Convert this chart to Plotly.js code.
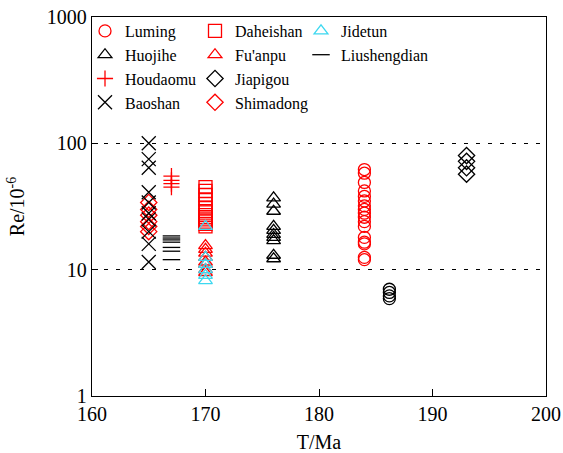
<!DOCTYPE html>
<html>
<head>
<meta charset="utf-8">
<script src="https://cdn.plot.ly/plotly-3.0.1.min.js"></script>
<style>html,body{margin:0;padding:0;background:#fff;}#chart{width:563px;height:453px;}</style>
</head>
<body>
<div id="chart"></div>
<script>
// Ages (Ma)
const ageBaoshan = 165;
const ageHoudaomu = 167;
const ageLiushengdian = 167;
const ageDaheishan = 170;
const ageFuanpu = 170;
const ageJidetun = 170;
const ageHuojihe = 176;
const ageLuming = 184;
const ageUnlabeled = 186.2;
const ageJiapigou = 193;

// Re (10^-6) values
const reLuming = [62, 58, 49, 42, 38, 35, 32, 30, 28, 26, 24, 22, 18, 16.5, 16, 12.5, 12];
const reHuojihe = [37, 33, 29, 22, 20.5, 19, 18, 17, 13, 12.2];
const reHoudaomu = [55, 51, 48, 45];
const reBaoshan = [100, 75, 64, 41, 34, 28, 25, 20, 16, 11.5];
const reDaheishan = [45, 42, 39, 36, 33, 31, 29, 27, 26, 25, 24, 23, 22];
const reFuanpu = [15.5, 14.5, 13.5, 12.5, 11.5, 11, 10, 9.5];
const reJiapigou = [80, 72, 64, 57];
const reShimadong = [34, 30, 27, 24, 22, 20];
const reJidetun = [22, 12.5, 11, 10, 9, 8.2];
const reLiushengdian = [18.5, 17.8, 17.2, 16.5, 15, 14, 12];
const reUnlabeled = [7, 6.6, 6.2, 5.9];

const yTickVals = [1, 10, 100, 1000];
const yTickText = ['1', '10', '100', '1000'];
const xTickVals = [160, 170, 180, 190, 200];

const RED = '#ff0000', BLACK = '#000000', CYAN = '#3cd8f0';
const SERIF = '"Liberation Serif", "Times New Roman", "DejaVu Serif", serif';

function tr(name, age, vals, symbol, color, size, legend, rank) {
  return {
    type: 'scatter', mode: 'markers', name: name,
    x: vals.map(() => age), y: vals,
    marker: {symbol: symbol, size: size, color: color,
             line: {color: color, width: 1.3}},
    legend: legend, legendrank: rank, legendgroup: name
  };
}

const data = [
  tr('Luming', ageLuming, reLuming, 'circle-open', RED, 12, 'legend', 1),
  tr('Huojihe', ageHuojihe, reHuojihe, 'triangle-up-open', BLACK, 12, 'legend', 2),
  tr('Houdaomu', ageHoudaomu, reHoudaomu, 'cross-thin-open', RED, 11.5, 'legend', 3),
  tr('Shimadong', ageBaoshan, reShimadong, 'diamond-open', RED, 12.5, 'legend2', 4),
  tr('Baoshan', ageBaoshan, reBaoshan, 'x-thin-open', BLACK, 14, 'legend', 4),
  tr('Daheishan', ageDaheishan, reDaheishan, 'square-open', RED, 13, 'legend2', 1),
  tr("Fu'anpu", ageFuanpu, reFuanpu, 'triangle-up-open', RED, 12, 'legend2', 2),
  tr('Jiapigou', ageJiapigou, reJiapigou, 'diamond-open', BLACK, 12.5, 'legend2', 3),
  tr('Jidetun', ageJidetun, reJidetun, 'triangle-up-open', CYAN, 12, 'legend3', 1),
  tr('Liushengdian', ageLiushengdian, reLiushengdian, 'line-ew-open', BLACK, 12.5, 'legend3', 2),
];
const unl = tr('unlabeled', ageUnlabeled, reUnlabeled, 'circle-open', BLACK, 12, 'legend', 9);
unl.showlegend = false;
data.push(unl);

const legFont = {family: SERIF, size: 16, color: '#000'};
// plot area: x 92..546 px, y 17..396 px
function leg(xpx) {
  return {x: (xpx - 92) / 454, xref: 'paper', y: (396 - 14) / 379, yref: 'paper',
          xanchor: 'left', yanchor: 'top', bgcolor: 'rgba(0,0,0,0)', borderwidth: 0,
          font: legFont, tracegroupgap: 4, traceorder: 'normal'};
}

const layout = {
  width: 563, height: 453,
  margin: {l: 92, r: 17, t: 17, b: 57, autoexpand: false},
  paper_bgcolor: '#fff', plot_bgcolor: '#fff',
  font: {family: SERIF, size: 20, color: '#000'},
  showlegend: true,
  legend: leg(85), legend2: leg(195), legend3: leg(301),
  xaxis: {
    range: [160, 200], tickvals: xTickVals, ticks: 'inside', ticklen: 7, tickcolor: '#000',
    showline: true, linecolor: '#000', linewidth: 1.2, mirror: true, showgrid: false, zeroline: false,
    title: {text: 'T/Ma', font: {family: SERIF, size: 20}},
    tickfont: {family: SERIF, size: 20}
  },
  yaxis: {
    type: 'log', range: [0, 3], tickvals: yTickVals, ticktext: yTickText,
    ticks: 'inside', ticklen: 6, tickcolor: '#000',
    showline: true, linecolor: '#000', linewidth: 1.2, mirror: true,
    showgrid: true, gridcolor: '#000', gridwidth: 1.3, griddash: '4px,8px', zeroline: false,
    title: {text: 'Re/10<sup>-6</sup>', font: {family: SERIF, size: 20}, standoff: 16},
    tickfont: {family: SERIF, size: 20}
  }
};

Plotly.newPlot('chart', data, layout, {displayModeBar: false, staticPlot: true});
</script>
</body>
</html>
